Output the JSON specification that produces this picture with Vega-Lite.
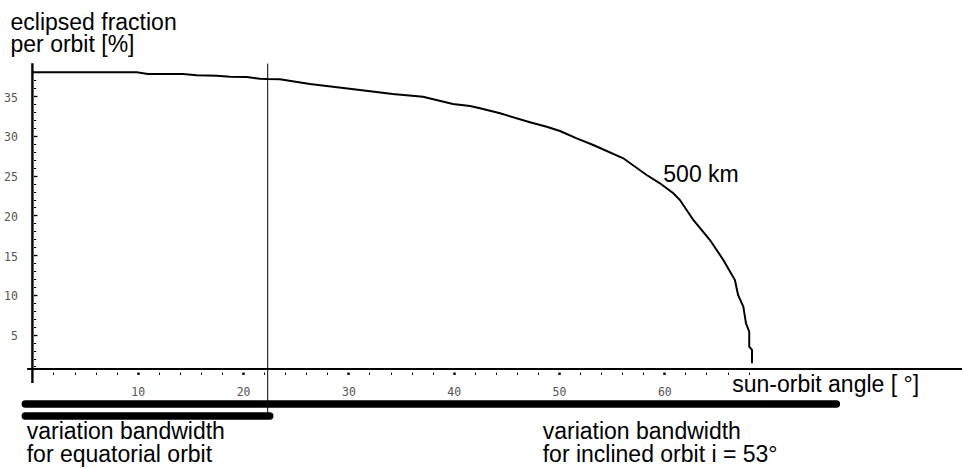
{
  "$schema": "https://vega.github.io/schema/vega-lite/v6.json",
  "width": 962,
  "height": 468,
  "padding": 0,
  "autosize": {"type": "none"},
  "background": "white",
  "config": {"view": {"stroke": null}, "axis": {"grid": false}},
  "datasets": {
    "curve": [
      {"angle": 0, "fraction": 38.0}, {"angle": 9.9, "fraction": 38.0}, {"angle": 10.97, "fraction": 37.79},
      {"angle": 14.3, "fraction": 37.79}, {"angle": 15.6, "fraction": 37.63}, {"angle": 17.5, "fraction": 37.58},
      {"angle": 18.76, "fraction": 37.45}, {"angle": 20.35, "fraction": 37.42}, {"angle": 21.6, "fraction": 37.2},
      {"angle": 22.3, "fraction": 37.16}, {"angle": 23.5, "fraction": 37.13}, {"angle": 26.35, "fraction": 36.53},
      {"angle": 31.1, "fraction": 35.78}, {"angle": 34.2, "fraction": 35.27}, {"angle": 37.08, "fraction": 34.94},
      {"angle": 39.93, "fraction": 34.02}, {"angle": 41.55, "fraction": 33.77}, {"angle": 42.5, "fraction": 33.48},
      {"angle": 44.4, "fraction": 32.85}, {"angle": 47.24, "fraction": 31.72}, {"angle": 48.83, "fraction": 31.16},
      {"angle": 50.09, "fraction": 30.62}, {"angle": 51.68, "fraction": 29.7}, {"angle": 53.25, "fraction": 28.86},
      {"angle": 56.1, "fraction": 27.19}, {"angle": 58.32, "fraction": 25.09}, {"angle": 59.58, "fraction": 24.04},
      {"angle": 60.85, "fraction": 22.79}, {"angle": 61.48, "fraction": 21.94}, {"angle": 62.75, "fraction": 19.43},
      {"angle": 64.33, "fraction": 16.91}, {"angle": 65.6, "fraction": 14.4}, {"angle": 66.7, "fraction": 11.88},
      {"angle": 67.0, "fraction": 10.0}, {"angle": 67.5, "fraction": 8.52}, {"angle": 67.75, "fraction": 6.43},
      {"angle": 68.06, "fraction": 5.38}, {"angle": 68.06, "fraction": 3.49}, {"angle": 68.32, "fraction": 3.08},
      {"angle": 68.32, "fraction": 1.4}
    ],
    "bands": [
      {"orbit": "inclined", "from": -0.68, "to": 76.34},
      {"orbit": "equatorial", "from": -0.68, "to": 22.54}
    ],
    "notes": [
      {"label": "500 km", "angle": 59.9, "fraction": 24.25},
      {"label": "variation bandwidth\nfor equatorial orbit", "angle": -0.54, "fraction": -8.12},
      {"label": "variation bandwidth\nfor inclined orbit i = 53°", "angle": 48.45, "fraction": -8.12}
    ],
    "single": [{}]
  },
  "resolve": {"axis": {"x": "independent", "y": "independent"}},
  "layer": [
    {
      "data": {"name": "curve"},
      "mark": {"type": "line", "color": "#000000", "strokeWidth": 2},
      "encoding": {
        "x": {
          "field": "angle", "type": "quantitative",
          "scale": {"domain": [-3.076, 88.26], "nice": false, "zero": false},
          "axis": {
            "orient": "bottom", "offset": -99, "domain": false, "ticks": false, "tickSize": 0,
            "values": [10, 20, 30, 40, 50, 60],
            "labelFont": "DejaVu Sans Mono", "labelFontSize": 11.5, "labelColor": "#555555",
            "labelPadding": 17, "labelBaseline": "top",
            "title": "sun-orbit angle [ °]", "titleFont": "Liberation Sans", "titleFontSize": 23,
            "titleFontWeight": "normal", "titleColor": "#000000",
            "titleX": 731.7, "titleY": 22.7, "titleAlign": "left", "titleBaseline": "alphabetic", "titleAngle": 0
          }
        },
        "y": {
          "field": "fraction", "type": "quantitative",
          "scale": {"domain": [-11.77, 47.1], "nice": false, "zero": false},
          "axis": {
            "orient": "left", "offset": -32.4, "domain": false, "ticks": false, "tickSize": 0,
            "values": [5, 10, 15, 20, 25, 30, 35],
            "labelFont": "DejaVu Sans Mono", "labelFontSize": 11.5, "labelColor": "#555555",
            "labelPadding": 15, "labelOffset": 2, "labelAlign": "right", "labelBaseline": "middle",
            "title": ["eclipsed fraction", "per orbit [%]"], "titleFont": "Liberation Sans", "titleFontSize": 23,
            "titleFontWeight": "normal", "titleColor": "#000000", "titleLineHeight": 22,
            "titleX": -22.4, "titleY": 29.3, "titleAlign": "left", "titleBaseline": "alphabetic", "titleAngle": 0
          }
        },
        "order": {"value": null}
      }
    },
    {
      "data": {"name": "single"},
      "mark": {"type": "rule", "color": "#000000", "strokeWidth": 1},
      "encoding": {
        "x": {
          "datum": 22.34, "type": "quantitative",
          "scale": {"domain": [-3.076, 88.26], "nice": false, "zero": false},
          "axis": {
            "orient": "bottom", "offset": -96, "domain": false, "labels": false, "title": null,
            "values": [2, 4, 6, 8, 10, 12, 14, 16, 18, 20, 22, 24, 26, 28, 30, 32, 34, 36, 38, 40, 42, 44, 46, 48, 50, 52, 54, 56, 58, 60, 62, 64, 66, 68],
            "tickSize": 2.5, "tickColor": "#000000",
            "tickWidth": {"condition": {"test": "datum.value % 10 === 0", "value": 2.4}, "value": 1}
          }
        },
        "y": {
          "datum": 39.1, "type": "quantitative",
          "scale": {"domain": [-11.77, 47.1], "nice": false, "zero": false},
          "axis": {
            "orient": "right", "offset": -928.5, "domain": false, "labels": false, "title": null,
            "values": [1, 2, 3, 4, 5, 6, 7, 8, 9, 10, 11, 12, 13, 14, 15, 16, 17, 18, 19, 20, 21, 22, 23, 24, 25, 26, 27, 28, 29, 30, 31, 32, 33, 34, 35, 36, 37, 38],
            "tickColor": "#000000",
            "tickSize": {"condition": {"test": "datum.value % 5 === 0", "value": 3.5}, "value": 2.2},
            "tickWidth": {"condition": {"test": "datum.value % 5 === 0", "value": 1.4}, "value": 1}
          }
        },
        "y2": {"datum": -5.2}
      }
    },
    {
      "data": {"name": "single"},
      "mark": {"type": "rule", "color": "#000000", "strokeWidth": 2},
      "encoding": {
        "x": {"datum": -0.5, "type": "quantitative", "scale": {"domain": [-3.076, 88.26], "nice": false, "zero": false}, "axis": null},
        "x2": {"datum": 88.26},
        "y": {"datum": 0.69, "type": "quantitative", "scale": {"domain": [-11.77, 47.1], "nice": false, "zero": false}, "axis": null}
      }
    },
    {
      "data": {"name": "single"},
      "mark": {"type": "rule", "color": "#000000", "strokeWidth": 2.4},
      "encoding": {
        "x": {"datum": 0.0, "type": "quantitative", "scale": {"domain": [-3.076, 88.26], "nice": false, "zero": false}, "axis": null},
        "y": {"datum": 39.14, "type": "quantitative", "scale": {"domain": [-11.77, 47.1], "nice": false, "zero": false}, "axis": null},
        "y2": {"datum": -1.08}
      }
    },
    {
      "data": {"name": "bands"},
      "transform": [{"filter": "datum.orbit === 'inclined'"}],
      "mark": {"type": "rule", "color": "#000000", "strokeWidth": 7.3, "strokeCap": "round"},
      "encoding": {
        "x": {"field": "from", "type": "quantitative", "scale": {"domain": [-3.076, 88.26], "nice": false, "zero": false}, "axis": null},
        "x2": {"field": "to"},
        "y": {"datum": -3.72, "type": "quantitative", "scale": {"domain": [-11.77, 47.1], "nice": false, "zero": false}, "axis": null}
      }
    },
    {
      "data": {"name": "bands"},
      "transform": [{"filter": "datum.orbit === 'equatorial'"}],
      "mark": {"type": "rule", "color": "#000000", "strokeWidth": 7.3, "strokeCap": "round"},
      "encoding": {
        "x": {"field": "from", "type": "quantitative", "scale": {"domain": [-3.076, 88.26], "nice": false, "zero": false}, "axis": null},
        "x2": {"field": "to"},
        "y": {"datum": -5.23, "type": "quantitative", "scale": {"domain": [-11.77, 47.1], "nice": false, "zero": false}, "axis": null}
      }
    },
    {
      "data": {"name": "notes"},
      "mark": {"type": "text", "font": "Liberation Sans", "fontSize": 23, "color": "#000000", "align": "left", "baseline": "alphabetic", "lineBreak": "\n", "lineHeight": 23},
      "encoding": {
        "x": {"field": "angle", "type": "quantitative", "scale": {"domain": [-3.076, 88.26], "nice": false, "zero": false}, "axis": null},
        "y": {"field": "fraction", "type": "quantitative", "scale": {"domain": [-11.77, 47.1], "nice": false, "zero": false}, "axis": null},
        "text": {"field": "label", "type": "nominal"}
      }
    }
  ]
}
